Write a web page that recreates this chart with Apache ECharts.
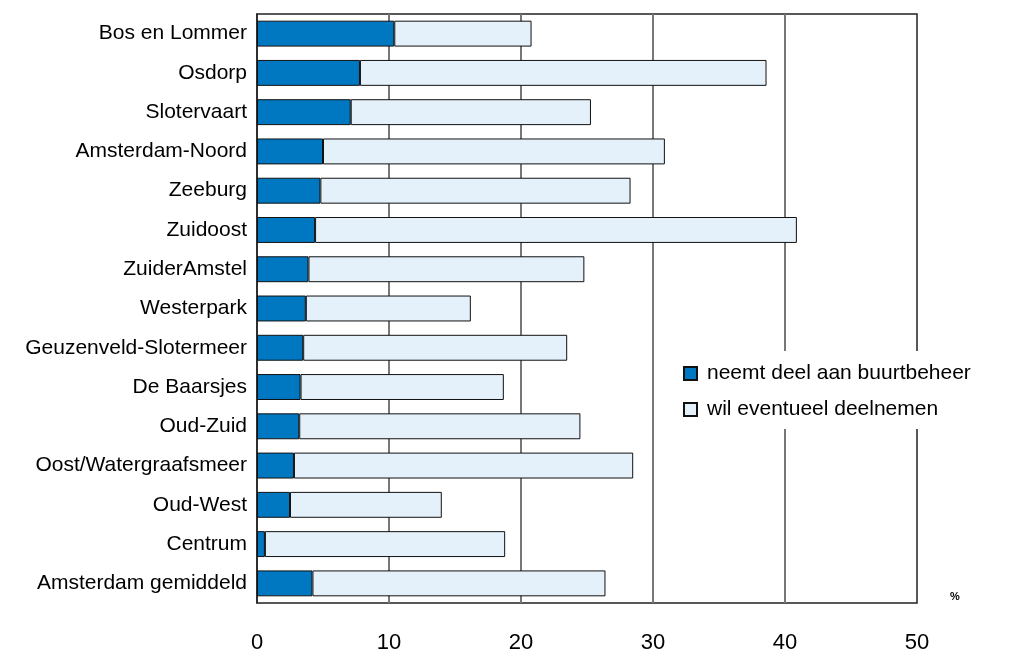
<!DOCTYPE html>
<html>
<head>
<meta charset="utf-8">
<script src="https://cdn.jsdelivr.net/npm/echarts@6/dist/echarts.min.js"></script>
<style>
html,body{margin:0;padding:0;background:#fff;}
#chart{width:1014px;height:654px;}
</style>
</head>
<body>
<div id="chart"></div>
<script>
const categories = ['Bos en Lommer','Osdorp','Slotervaart','Amsterdam-Noord','Zeeburg','Zuidoost','ZuiderAmstel','Westerpark','Geuzenveld-Slotermeer','De Baarsjes','Oud-Zuid','Oost/Watergraafsmeer','Oud-West','Centrum','Amsterdam gemiddeld'];
const neemtDeel = [10.4, 7.8, 7.1, 5.0, 4.8, 4.4, 3.9, 3.7, 3.5, 3.3, 3.2, 2.8, 2.5, 0.6, 4.2];
const wilEventueel = [10.4, 30.8, 18.2, 25.9, 23.5, 36.5, 20.9, 12.5, 20.0, 15.4, 21.3, 25.7, 11.5, 18.2, 22.2];
const seriesNames = ['neemt deel aan buurtbeheer', 'wil eventueel deelnemen'];
const xTicks = [0, 10, 20, 30, 40, 50];

const FONT = 'Liberation Sans, Arial, sans-serif';
const chart = echarts.init(document.getElementById('chart'), null, {renderer: 'canvas'});
chart.setOption({
  animation: false,
  backgroundColor: '#fff',
  grid: {left: 257, right: 97, top: 14, bottom: 50, show: true, borderColor: '#222', borderWidth: 1.5, containLabel: false},
  xAxis: {
    type: 'value', min: xTicks[0], max: xTicks[xTicks.length - 1], interval: xTicks[1] - xTicks[0],
    axisLine: {show: false}, axisTick: {show: false},
    axisLabel: {color: '#000', fontSize: 22, fontFamily: FONT, margin: 29},
    splitLine: {show: true, showMinLine: false, showMaxLine: false, lineStyle: {color: '#777', width: 2}}
  },
  yAxis: {
    type: 'category', data: categories, inverse: true,
    axisLine: {show: true, lineStyle: {color: '#222', width: 1.5}},
    axisTick: {show: false},
    axisLabel: {color: '#000', fontSize: 21, fontFamily: FONT, margin: 10}
  },
  legend: {
    orient: 'vertical', left: 673, top: 351,
    backgroundColor: '#fff', padding: [12, 8, 9, 10],
    itemWidth: 13, itemHeight: 13, itemGap: 15,
    icon: 'rect',
    textStyle: {color: '#000', fontSize: 21, fontFamily: FONT, padding: [0, 0, 0, 5]},
    data: seriesNames
  },
  series: [
    {name: seriesNames[0], type: 'bar', stack: 't', data: neemtDeel, barCategoryGap: '34%',
     itemStyle: {color: '#0077C1', borderColor: '#111', borderWidth: 1}},
    {name: seriesNames[1], type: 'bar', stack: 't', data: wilEventueel, barCategoryGap: '34%',
     itemStyle: {color: '#E4F0FA', borderColor: '#111', borderWidth: 1}}
  ],
  graphic: [
    {type: 'text', left: 950, top: 591, style: {text: '%', fontSize: 11, fontWeight: 'bold', fontFamily: FONT, fill: '#000'}}
  ]
});
</script>
</body>
</html>
